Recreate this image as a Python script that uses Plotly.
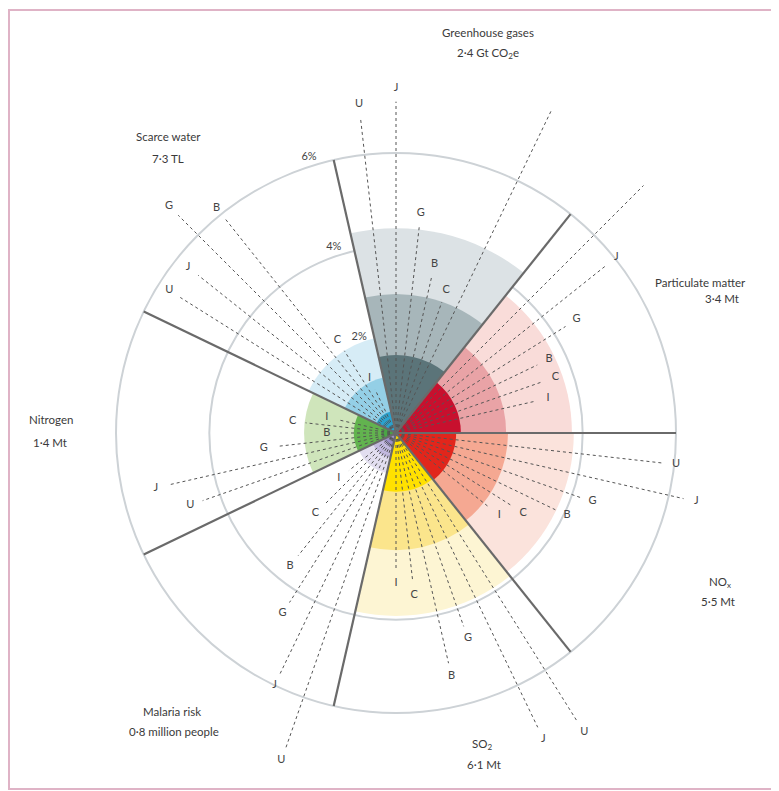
import plotly.graph_objects as go

# the page body adds an 8 px margin, so the figure is sized/placed to compensate
OFF = 8
W, H = 779 - OFF, 791 - OFF
CX, CY, R_PX = 396 - OFF, 433 - OFF, 358   # centre of the wheel and subplot radius (px)
PX_PER_PCT = 280 / 6.0                      # 6 % ring sits at 280 px
RMAX = R_PX / PX_PER_PCT
SW = 360 / 7                                # sector width (deg)

# ---- data -------------------------------------------------------------
sectors = ["Particulate matter", "Greenhouse gases", "Scarce water", "Nitrogen",
           "Malaria risk", "SO2", "NOx"]

# global health-care share (%) drawn as three nested wedges
layer_light = [3.77, 4.39, 2.08, 1.97, 0.88, 3.92, 3.81]
layer_mid   = [2.36, 2.98, 1.22, 0.90, 0.55, 2.51, 2.40]
layer_dark  = [1.39, 1.67, 0.47, 0.30, 0.30, 1.26, 1.29]

colors_light = ["#f9dcd9", "#dce2e5", "#d6ecf6", "#cfe5bb", "#e2def0", "#fdf5d3", "#fbe3dc"]
colors_mid   = ["#e9a3a6", "#a7b6ba", "#94cfe6", "#62b34f", "#c2b9df", "#fbe58c", "#f5a892"]
colors_dark  = ["#c8102e", "#5b7479", "#2aa3cf", "#4aa545", "#9d91c9", "#ffe100", "#e1261c"]

# country shares (%), slots 2..7 inside each sector
countries = ["I", "C", "B", "G", "J", "U"]
pm_vals    = [3.06, 3.34, 3.36, 4.29, 5.76, 7.50]
ghg_vals   = [7.70, 2.97, 3.43, 4.45, 7.10, 6.80]
water_vals = [1.03, 2.08, 5.89, 6.60, 5.42, 5.46]
nitro_vals = [1.24, 1.95, 1.20, 2.57, 5.00, 4.39]
mal_vals   = [1.29, 2.16, 3.36, 4.29, 5.72, 7.16]
so2_vals   = [2.94, 3.21, 5.06, 4.39, 7.00, 7.30]
nox_vals   = [2.55, 2.94, 3.79, 4.18, 6.32, 5.76]
country_vals = [pm_vals, ghg_vals, water_vals, nitro_vals, mal_vals, so2_vals, nox_vals]

ring_vals = [2, 4, 6]
ring_text = ["2%", "4%", "6%"]

titles_line1 = ["Particulate matter", "Greenhouse gases", "Scarce water", "Nitrogen",
                "Malaria risk", "SO<sub>2</sub>", "NO<sub>x</sub>"]
titles_line2 = ["3·4 Mt", "2·4 Gt CO<sub>2</sub>e", "7·3 TL", "1·4 Mt",
                "0·8 million people", "6·1 Mt", "5·5 Mt"]

# ---- figure -----------------------------------------------------------
FONT = "Lato, 'Open Sans', sans-serif"
fig = go.Figure()

centers = [i * SW + SW / 2 for i in range(7)]
for vals, cols in [(layer_light, colors_light), (layer_mid, colors_mid), (layer_dark, colors_dark)]:
    fig.add_trace(go.Barpolar(r=vals, theta=centers, width=[SW] * 7,
                              marker=dict(color=cols, line=dict(width=0)),
                              hoverinfo="skip"))

# dotted country rays
rr, tt, lr, lt, ltxt = [], [], [], [], []
for i, vals in enumerate(country_vals):
    for k, (v, c) in enumerate(zip(vals, countries)):
        ang = i * SW + (k + 2) * SW / 8
        rr += [0, v, None]
        tt += [ang, ang, None]
        lr.append(v + 0.28)
        lt.append(ang)
        ltxt.append(c)
fig.add_trace(go.Scatterpolar(r=rr, theta=tt, mode="lines",
                              line=dict(color="#555555", width=1, dash="dot"),
                              hoverinfo="skip"))

# sector boundaries
br, bt = [], []
for i in range(7):
    br += [0, 6, None]
    bt += [i * SW, i * SW, None]
fig.add_trace(go.Scatterpolar(r=br, theta=bt, mode="lines",
                              line=dict(color="#6a6a6a", width=2.2), hoverinfo="skip"))

# letters
fig.add_trace(go.Scatterpolar(r=lr, theta=lt, mode="text", text=ltxt,
                              textfont=dict(size=11, color="#444", family=FONT),
                              cliponaxis=False, hoverinfo="skip"))

# ring labels
fig.add_trace(go.Scatterpolar(r=[v + 0.2 for v in ring_vals], theta=[111, 108.5, 107.5],
                              mode="text", text=ring_text,
                              textfont=dict(size=11, color="#444", family=FONT),
                              cliponaxis=False, hoverinfo="skip"))

# sector titles (window pixel positions)
title_pos = [(700, 282, 722, 298), (488, 32, 488, 53), (168, 136, 168, 158),
             (51, 419, 50, 442), (172, 711, 174, 731), (482, 744, 484, 764),
             (720, 582, 718, 601)]
for t1, t2, (x1, y1, x2, y2) in zip(titles_line1, titles_line2, title_pos):
    for t, x, y in [(t1, x1, y1), (t2, x2, y2)]:
        fig.add_annotation(text=t, x=(x - OFF) / W, y=1 - (y - OFF) / H,
                           xref="paper", yref="paper",
                           showarrow=False, xanchor="center", yanchor="middle",
                           font=dict(size=11.5, color="#3a3a3a", family=FONT))

fig.add_shape(type="rect", xref="paper", yref="paper",
              x0=1 / W, x1=(773 - OFF) / W, y0=1 - (789 - OFF) / H, y1=1 - (10 - OFF) / H,
              line=dict(color="#dfb3c6", width=2))

fig.update_layout(
    width=W, height=H, margin=dict(l=0, r=0, t=0, b=0),
    paper_bgcolor="white", showlegend=False,
    polar=dict(
        domain=dict(x=[(CX - R_PX) / W, (CX + R_PX) / W],
                    y=[max(0, (H - CY - R_PX) / H), min(1, (H - CY + R_PX) / H)]),
        bgcolor="white",
        barmode="overlay",
        radialaxis=dict(range=[0, RMAX], tickvals=[4, 6], showticklabels=False,
                        showline=False, ticks="", gridcolor="#cdd2d6", gridwidth=1.5),
        angularaxis=dict(rotation=0, direction="counterclockwise", showgrid=False,
                         showline=False, ticks="", showticklabels=False),
    ),
)

fig.write_html("out.html")
